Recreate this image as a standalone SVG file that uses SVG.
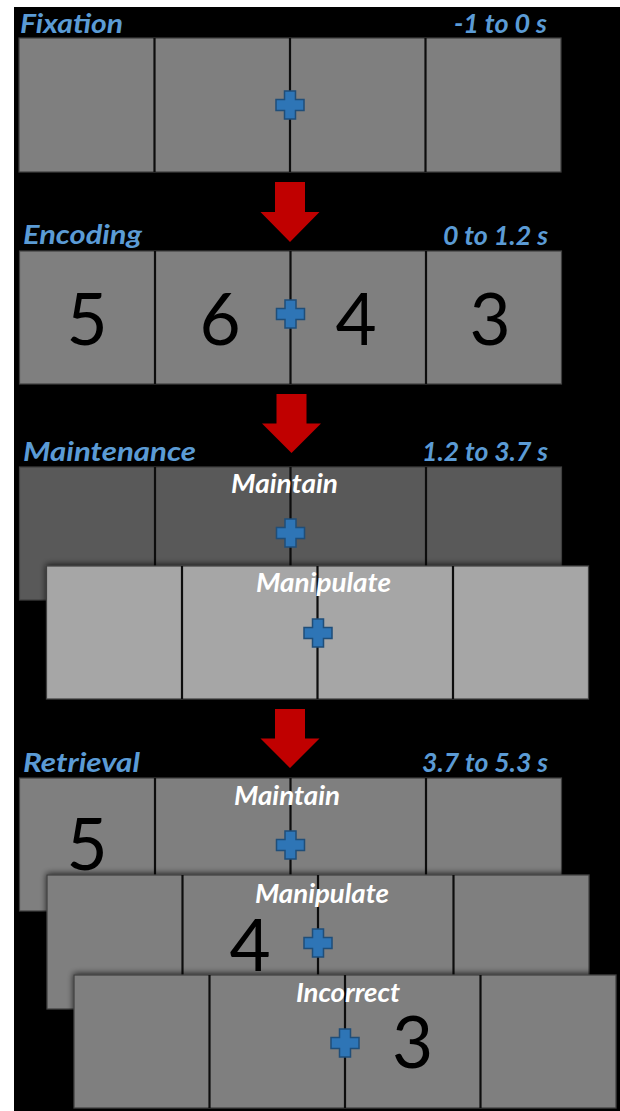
<svg xmlns="http://www.w3.org/2000/svg" xmlns:xlink="http://www.w3.org/1999/xlink" width="620" height="1111" viewBox="0 0 620 1111">
<style>
.title{font-family:Lato,"Open Sans","Liberation Sans",sans-serif;font-weight:bold;font-style:italic;font-size:27px;fill:#5b9bd5}
.lbl{font-family:Lato,"Open Sans","Liberation Sans",sans-serif;font-weight:bold;font-style:italic;font-size:26px;fill:#ffffff;text-anchor:middle}
.digit{font-family:Lato,"Open Sans","Liberation Sans",sans-serif;font-size:71px;fill:#000000;text-anchor:middle}
.cell{stroke:#404040;stroke-width:1.2}
.mid{fill:#7f7f7f}
.dark{fill:#595959}
.light{fill:#a6a6a6}
.div{stroke:#0d0d0d;stroke-width:2.2}
.arrow{fill:#c00000}
</style>
<defs>
<path id="cross" d="M-5.5,-14 h11 v8.5 h8.5 v11 h-8.5 v8.5 h-11 v-8.5 h-8.5 v-11 h8.5 z" fill="#2e75b6" stroke="#1f4e79" stroke-width="1.5"/>
<filter id="shadow" x="-10%" y="-20%" width="120%" height="140%">
<feDropShadow dx="0" dy="-1" stdDeviation="3" flood-color="#000" flood-opacity="0.75"/>
</filter>
</defs>
<rect x="0" y="0" width="620" height="1111" fill="#ffffff"/>
<rect x="14" y="7" width="606" height="1104" fill="#000000"/>

<g id="fixation">
<text class="title" x="20" y="33" textLength="103" lengthAdjust="spacingAndGlyphs">Fixation</text>
<text class="title" x="454" y="33" textLength="93" lengthAdjust="spacingAndGlyphs">-1 to 0 s</text>
<rect class="cell mid" x="19" y="38" width="542" height="134"/>
<line class="div" x1="154.5" y1="38" x2="154.5" y2="172"/>
<line class="div" x1="290" y1="38" x2="290" y2="172"/>
<line class="div" x1="425.5" y1="38" x2="425.5" y2="172"/>
<use xlink:href="#cross" x="290" y="105"/>
</g>

<g id="encoding">
<text class="title" x="23" y="244" textLength="119" lengthAdjust="spacingAndGlyphs">Encoding</text>
<text class="title" x="443" y="245" textLength="105" lengthAdjust="spacingAndGlyphs">0 to 1.2 s</text>
<rect class="cell mid" x="19.5" y="251" width="542" height="133"/>
<line class="div" x1="155" y1="251" x2="155" y2="384"/>
<line class="div" x1="290.5" y1="251" x2="290.5" y2="384"/>
<line class="div" x1="426" y1="251" x2="426" y2="384"/>
<use xlink:href="#cross" x="290.5" y="314"/>
<text class="digit" x="87" y="345">5</text>
<text class="digit" x="220" y="345">6</text>
<text class="digit" x="356" y="345">4</text>
<text class="digit" x="490" y="345">3</text>
</g>

<g id="maintenance-title">
<text class="title" x="23" y="461" textLength="173" lengthAdjust="spacingAndGlyphs">Maintenance</text>
<text class="title" x="422" y="461" textLength="126" lengthAdjust="spacingAndGlyphs">1.2 to 3.7 s</text>
</g>

<g id="maintenance-maintain">
<rect class="cell dark" x="19.5" y="467" width="542" height="133"/>
<line class="div" x1="155" y1="467" x2="155" y2="600"/>
<line class="div" x1="290.5" y1="467" x2="290.5" y2="600"/>
<line class="div" x1="426" y1="467" x2="426" y2="600"/>
<use xlink:href="#cross" x="290.5" y="533"/>
<text class="lbl" x="284.5" y="493" textLength="107" lengthAdjust="spacingAndGlyphs">Maintain</text>
</g>

<g id="maintenance-manipulate">
<g filter="url(#shadow)">
<rect class="cell light" x="46.5" y="566" width="542" height="133"/>
<line class="div" x1="182" y1="566" x2="182" y2="699"/>
<line class="div" x1="317.5" y1="566" x2="317.5" y2="699"/>
<line class="div" x1="453" y1="566" x2="453" y2="699"/>
</g>
<use xlink:href="#cross" x="318" y="633"/>
<text class="lbl" x="323.5" y="592" textLength="135" lengthAdjust="spacingAndGlyphs">Manipulate</text>
</g>

<g id="retrieval-title">
<text class="title" x="23" y="772" textLength="117" lengthAdjust="spacingAndGlyphs">Retrieval</text>
<text class="title" x="422" y="772" textLength="126" lengthAdjust="spacingAndGlyphs">3.7 to 5.3 s</text>
</g>

<g id="retrieval-maintain">
<rect class="cell mid" x="19.5" y="778" width="542" height="133"/>
<line class="div" x1="155" y1="778" x2="155" y2="911"/>
<line class="div" x1="290.5" y1="778" x2="290.5" y2="911"/>
<line class="div" x1="426" y1="778" x2="426" y2="911"/>
<use xlink:href="#cross" x="290.5" y="845"/>
<text class="lbl" x="287" y="805" textLength="106" lengthAdjust="spacingAndGlyphs">Maintain</text>
<text class="digit" x="87" y="870">5</text>
</g>

<g id="retrieval-manipulate">
<g filter="url(#shadow)">
<rect class="cell mid" x="47" y="875" width="542" height="134"/>
<line class="div" x1="182.5" y1="875" x2="182.5" y2="1009"/>
<line class="div" x1="318" y1="875" x2="318" y2="1009"/>
<line class="div" x1="453.5" y1="875" x2="453.5" y2="1009"/>
</g>
<use xlink:href="#cross" x="318" y="943"/>
<text class="lbl" x="322" y="903" textLength="134" lengthAdjust="spacingAndGlyphs">Manipulate</text>
<text class="digit" x="250" y="971">4</text>
</g>

<g id="retrieval-incorrect">
<g filter="url(#shadow)">
<rect class="cell mid" x="74" y="975" width="542" height="133"/>
<line class="div" x1="209.5" y1="975" x2="209.5" y2="1108"/>
<line class="div" x1="345" y1="975" x2="345" y2="1108"/>
<line class="div" x1="480.5" y1="975" x2="480.5" y2="1108"/>
</g>
<use xlink:href="#cross" x="345" y="1043"/>
<text class="lbl" x="348" y="1002" textLength="104" lengthAdjust="spacingAndGlyphs">Incorrect</text>
<text class="digit" x="412.5" y="1068">3</text>
</g>

<g id="connectors">
<polygon class="arrow" points="275,182 305,182 305,212 319.5,212 290,242 260.5,212 275,212"/>
<polygon class="arrow" points="276.5,394 306.5,394 306.5,423.5 321,423.5 291.5,453 262,423.5 276.5,423.5"/>
<polygon class="arrow" points="275,709 305,709 305,738.5 319.5,738.5 290,768 260.5,738.5 275,738.5"/>
</g>
</svg>
